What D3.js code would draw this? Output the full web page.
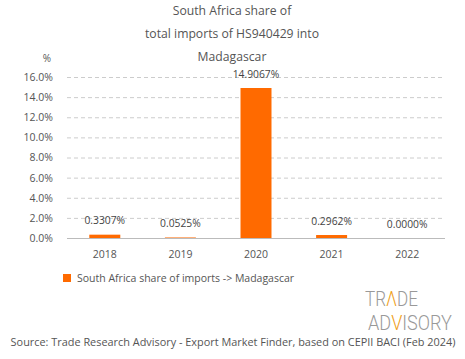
<!DOCTYPE html>
<html><head><meta charset="utf-8">
<script src="https://cdn.jsdelivr.net/npm/d3@7"></script>
<style>body{margin:0;background:#fff;}svg{display:block;font-family:"Open Sans",sans-serif;}</style>
</head><body>
<script>
const years = ["2018","2019","2020","2021","2022"];
const shares = [0.3307, 0.0525, 14.9067, 0.2962, 0.0000];
const yTicks = [0,2,4,6,8,10,12,14,16];
const titleLines = ["South Africa share of","total imports of HS940429 into","Madagascar"];
const legendLabel = "South Africa share of imports -> Madagascar";
const sourceText = "Source: Trade Research Advisory - Export Market Finder, based on CEPII BACI (Feb 2024)";
const logoLines = [["TR","Λ","DE"],["AD","V","ISORY"]];

const W=465,H=359;
const svg=d3.select("body").append("svg").attr("width",W).attr("height",H);
const m={l:67,r:20,t:77,b:121};
const x=d3.scaleBand().domain(years).range([m.l,W-m.r]).paddingInner(0.59).paddingOuter(0.295);
const y=d3.scaleLinear().domain([0,16]).range([H-m.b,m.t]);
const textCol="#555";

svg.append("g").selectAll("text").data(titleLines).join("text")
  .attr("x",232).attr("y",(d,i)=>15+i*23).attr("text-anchor","middle")
  .attr("font-size",12.2).attr("fill",textCol).text(d=>d);
svg.append("text").attr("x",47).attr("y",62).attr("text-anchor","middle").attr("font-size",10).attr("fill",textCol).text("%");

const yAxis=d3.axisLeft(y).tickValues(yTicks).tickFormat(d=>d.toFixed(1)+"%").tickSize(-(W-m.l-m.r)).tickPadding(14);
const gy=svg.append("g").attr("transform",`translate(${m.l},0)`).call(yAxis);
gy.select(".domain").remove();
gy.selectAll(".tick line").attr("stroke","#ccc").attr("stroke-dasharray","4,3").attr("stroke-width",1);
gy.selectAll(".tick").filter(d=>d===0).select("line").attr("stroke","#bbb").attr("stroke-dasharray",null);
gy.selectAll("text").attr("font-size",10.5).attr("fill",textCol).attr("font-family","Open Sans, sans-serif");

const xAxis=d3.axisBottom(x).tickSize(0).tickPadding(13);
const gx=svg.append("g").attr("transform",`translate(0,${y(0)})`).call(xAxis);
gx.select(".domain").remove();
gx.selectAll("text").attr("font-size",10.5).attr("fill",textCol).attr("font-family","Open Sans, sans-serif");

svg.append("g").selectAll("rect").data(years).join("rect")
  .attr("x",d=>x(d)).attr("width",x.bandwidth())
  .attr("y",(d,i)=>y(shares[i])).attr("height",(d,i)=>y(0)-y(shares[i]))
  .attr("fill","#ff6a00");

svg.append("g").selectAll("text").data(years).join("text")
  .attr("x",d=>x(d)+x.bandwidth()/2).attr("y",(d,i)=>y(shares[i])-10.5)
  .attr("text-anchor","middle").attr("font-size",10.3).attr("fill","#444")
  .text((d,i)=>shares[i].toFixed(4)+"%");

svg.append("rect").attr("x",63).attr("y",274).attr("width",8).attr("height",8).attr("fill","#ff6a00");
svg.append("text").attr("x",77).attr("y",282).attr("font-size",10.5).attr("fill",textCol).text(legendLabel);

// logo
const logoPos=[{x:365,y:306,w:53},{x:368,y:330,w:84}];
logoLines.forEach((parts,li)=>{
  const g=svg.append("g");
  let cx=0;
  parts.forEach((p,pi)=>{
    const t=g.append("text").attr("x",cx).attr("y",0)
      .attr("font-family","Roboto, sans-serif").attr("font-weight",300).attr("font-size",20)
      .attr("fill",pi===1?"#f0a020":"#999").text(p);
    cx+=t.node().getComputedTextLength();
  });
  g.attr("transform",`translate(${logoPos[li].x},${logoPos[li].y}) scale(${logoPos[li].w/cx},1)`);
});

svg.append("text").attr("x",233).attr("y",346).attr("text-anchor","middle").attr("font-size",10.9).attr("fill",textCol).text(sourceText);
</script>
</body></html>
